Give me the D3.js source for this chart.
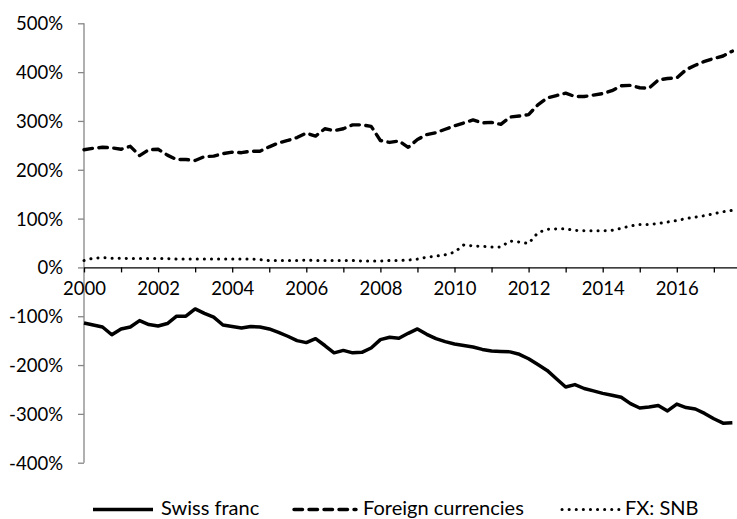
<!DOCTYPE html>
<html>
<head>
<meta charset="utf-8">
<script src="https://cdn.jsdelivr.net/npm/d3@7"></script>
<style>
  body { margin: 0; background: #fff; }
  svg text { font-family: Lato, "Liberation Sans", sans-serif; font-size: 18.5px; fill: #000; }
  svg text.legend { font-size: 20px; }
</style>
</head>
<body>
<svg id="chart" width="737" height="519"></svg>
<script>
// quarterly categories, 2000Q1 .. 2017Q3
var quarters = [
  "2000Q1","2000Q2","2000Q3","2000Q4","2001Q1","2001Q2","2001Q3","2001Q4",
  "2002Q1","2002Q2","2002Q3","2002Q4","2003Q1","2003Q2","2003Q3","2003Q4",
  "2004Q1","2004Q2","2004Q3","2004Q4","2005Q1","2005Q2","2005Q3","2005Q4",
  "2006Q1","2006Q2","2006Q3","2006Q4","2007Q1","2007Q2","2007Q3","2007Q4",
  "2008Q1","2008Q2","2008Q3","2008Q4","2009Q1","2009Q2","2009Q3","2009Q4",
  "2010Q1","2010Q2","2010Q3","2010Q4","2011Q1","2011Q2","2011Q3","2011Q4",
  "2012Q1","2012Q2","2012Q3","2012Q4","2013Q1","2013Q2","2013Q3","2013Q4",
  "2014Q1","2014Q2","2014Q3","2014Q4","2015Q1","2015Q2","2015Q3","2015Q4",
  "2016Q1","2016Q2","2016Q3","2016Q4","2017Q1","2017Q2","2017Q3"
];

var swissFranc = [
  -114,-118,-122,-138,-126,-122,-109,-117,-120,-115,-100,-100,-85,-94,-102,-118,
  -121,-124,-121,-122,-126,-133,-141,-150,-154,-146,-160,-175,-170,-175,-174,-165,
  -148,-143,-145,-135,-126,-137,-146,-152,-157,-160,-163,-168,-171,-172,-173,-178,
  -187,-199,-211,-228,-245,-240,-248,-253,-258,-262,-266,-279,-288,-286,-283,-294,
  -280,-287,-290,-299,-310,-319,-318
];

var foreignCurrencies = [
  241,244,246,245,242,248,229,241,242,230,221,221,219,227,228,233,
  236,235,238,238,247,255,260,266,275,269,284,280,284,292,292,289,
  260,256,259,246,262,272,276,283,290,296,302,296,297,293,308,310,
  313,333,347,352,357,350,350,353,356,362,372,373,368,367,384,387,
  388,405,414,422,428,433,443
];

var fxSNB = [
  14,19,20,19,19,18,18,18,18,18,17,17,17,17,17,17,
  17,17,17,16,14,14,14,14,15,14,14,14,14,14,13,13,
  13,14,14,15,17,21,23,26,31,46,44,43,42,42,54,52,
  49,71,78,79,79,76,75,75,75,76,80,85,88,88,90,93,
  96,100,103,106,110,114,117
];

var yTicks = [500,400,300,200,100,0,-100,-200,-300,-400];
var xTickYears = [2000,2001,2002,2003,2004,2005,2006,2007,2008,2009,2010,2011,2012,2013,2014,2015,2016,2017];
var xLabelYears = [2000,2002,2004,2006,2008,2010,2012,2014,2016];

var seriesNames = ["Swiss franc", "Foreign currencies", "FX: SNB"];

(function(){
  var svg = d3.select('svg#chart');

  var x = d3.scaleLinear().domain([2000, 2017.625]).range([84, 737]);
  var y = d3.scaleLinear().domain([-400, 500]).range([462.7, 23.3]);

  function qYear(q) {
    return +q.slice(0,4) + (+q.slice(5) - 1) / 4;
  }

  // y axis
  var yAxis = svg.append('g')
      .attr('transform', 'translate(84,0)')
      .call(d3.axisLeft(y).tickValues(yTicks).tickSize(6).tickPadding(15)
        .tickFormat(function(d){ return d + '%'; }));
  yAxis.selectAll('path,line').attr('stroke', '#868686').attr('stroke-width', 1.3);
  yAxis.select('.domain').attr('d', 'M0,' + y(500) + 'V' + y(-400));
  yAxis.selectAll('text').attr('font-family', null).attr('font-size', null).attr('fill', null)
      .attr('dy', '0.35em');

  // x axis through zero
  var xAxis = svg.append('g')
      .attr('transform', 'translate(0,' + y(0) + ')')
      .call(d3.axisBottom(x).tickValues(xTickYears).tickSize(5).tickSizeOuter(0)
        .tickFormat(function(d){ return xLabelYears.indexOf(d) >= 0 ? d : ''; }));
  xAxis.selectAll('path,line').attr('stroke', '#000').attr('stroke-width', 1.3);
  xAxis.selectAll('text').attr('font-family', null).attr('font-size', null).attr('fill', null)
      .attr('y', 14).attr('dy', '0.71em');

  var line = d3.line()
      .x(function(d, i){ return x(qYear(quarters[i])); })
      .y(function(d){ return y(d); });

  var styles = [
    { data: swissFranc, dash: null, width: 3.5, cap: 'butt' },
    { data: foreignCurrencies, dash: '8.5 6.5', width: 3.4, cap: 'round' },
    { data: fxSNB, dash: '0.1 7', width: 3, cap: 'round' }
  ];

  styles.forEach(function(s){
    svg.append('path')
        .datum(s.data)
        .attr('d', line)
        .attr('fill', 'none')
        .attr('stroke', '#000')
        .attr('stroke-width', s.width)
        .attr('stroke-linejoin', 'round')
        .attr('stroke-linecap', s.cap)
        .attr('stroke-dasharray', s.dash);
  });

  // legend
  var legendX = [93, 294, 562];
  var legendW = [60, 62, 58];
  var legendTextX = [161, 363, 625];
  var legendY = 509.5;
  styles.forEach(function(s, i){
    svg.append('line')
        .attr('x1', legendX[i]).attr('x2', legendX[i] + legendW[i])
        .attr('y1', legendY).attr('y2', legendY)
        .attr('stroke', '#000')
        .attr('stroke-width', s.width)
        .attr('stroke-linecap', s.cap)
        .attr('stroke-dasharray', s.dash);
    svg.append('text')
        .attr('class', 'legend')
        .attr('x', legendTextX[i])
        .attr('y', 515)
        .text(seriesNames[i]);
  });
})();
</script>
</body>
</html>
